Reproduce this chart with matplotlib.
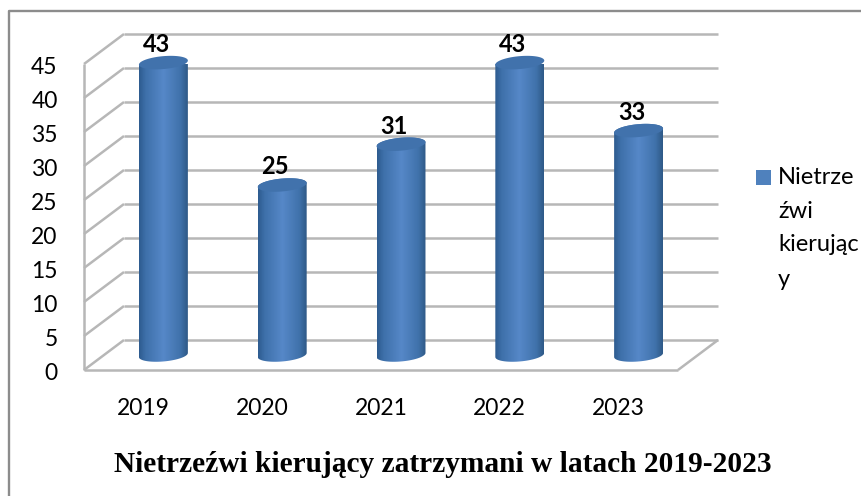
import matplotlib
matplotlib.use("Agg")
import matplotlib.pyplot as plt
import numpy as np
from matplotlib.colors import LinearSegmentedColormap
from matplotlib.patches import Polygon, Rectangle
from matplotlib.path import Path
from matplotlib.transforms import Affine2D

years = ["2019", "2020", "2021", "2022", "2023"]
drivers = [43, 25, 31, 43, 33]
y_ticks = [0, 5, 10, 15, 20, 25, 30, 35, 40, 45]
legend_lines = ["Nietrze", "źwi", "kierując", "y"]
title = "Nietrzeźwi kierujący zatrzymani w latach 2019-2023"

W, H = 861, 496
plt.rcParams["font.family"] = ["Lato", "DejaVu Sans"]

fig = plt.figure(figsize=(W / 100, H / 100), dpi=100)
ax = fig.add_axes([84 / W, (H - 370) / H, 594 / W, 306 / H])
ax.patch.set_visible(False)
for s in ax.spines.values():
    s.set_visible(False)

# pseudo 3d: back wall and bars are shifted in pixels from the front plane
back = ax.transData + Affine2D().translate(40, 30)
mid = ax.transData + Affine2D().translate(20, 15)
pixel = Affine2D().scale(1, -1).translate(0, H)  # image pixels -> display

grid = dict(color="#b7b7b7", lw=1.8, clip_on=False, solid_capstyle="butt", zorder=1)
for v in y_ticks:
    ax.plot([-0.5, 4.5], [v, v], transform=back, **grid)
    ax.plot([84, 124], [370 - v * 6.8, 340 - v * 6.8], transform=pixel, **grid)
ax.plot([-0.5, 4.5], [0, 0], **grid)
ax.plot([-0.5, -0.5], [0, 45], **grid)
ax.plot([678, 718], [370, 340], transform=pixel, **grid)

cyl = LinearSegmentedColormap.from_list(
    "cyl", [(0, "#2e5c90"), (0.13, "#3e70aa"), (0.5, "#5688c8"), (0.85, "#4072ab"), (1, "#2f5a88")]
)
hw = 0.206
hy = 0.95
tilt = 0.3
t = np.linspace(0, 2 * np.pi, 80)
lower = np.linspace(np.pi, 2 * np.pi, 40)
upper = np.linspace(0, np.pi, 40)


def rim(xc, v, a):
    return np.column_stack([xc + hw * np.cos(a), v + hy * np.sin(a) + tilt * np.cos(a)])


for i, v in enumerate(drivers):
    body = np.vstack([rim(i, 0, lower), rim(i, v, upper)])
    im = ax.imshow(
        np.linspace(0, 1, 64).reshape(1, -1), cmap=cyl, aspect="auto",
        extent=(i - hw, i + hw, -2, v + 2), transform=mid, zorder=3,
        interpolation="bilinear",
    )
    im.set_clip_path(Path(np.vstack([body, body[:1]])), mid)
    ax.add_patch(Polygon(rim(i, v, t), closed=True, fc="#4172ac", ec="none",
                         transform=mid, zorder=4, clip_on=False))
    ax.annotate(str(v), (i, v), xycoords=mid, xytext=(-5, 13), textcoords="offset points",
                ha="center", va="center", fontsize=17, fontweight="bold", color="black",
                zorder=5, annotation_clip=False)

ax.set_xlim(-0.5, 4.5)
ax.set_ylim(0, 45)
ax.set_xticks(range(len(years)), years)
ax.set_yticks(y_ticks)
ax.tick_params(length=0, labelsize=16.5, colors="black")
ax.tick_params(axis="x", pad=20)
ax.tick_params(axis="y", pad=19)
for lab in ax.get_yticklabels():
    lab.set_transform(lab.get_transform() + Affine2D().translate(0, -2))

# chart frame, only top and left are inside the crop
fig.add_artist(plt.Line2D([9, 9, W], [H, 11, 11], transform=pixel, color="#8c8c8c", lw=1.7))

fig.add_artist(Rectangle((756, 170), 15, 15, transform=pixel, fc="#4f81bd", ec="none"))
for n, line in enumerate(legend_lines):
    fig.text(778 / W, 1 - (177 + n * 34) / H, line, fontsize=17, va="center", ha="left")

fig.text(443 / W, 1 - 464 / H, title, family="Liberation Serif", fontweight="bold",
         fontsize=21.2, ha="center", va="center")

fig.savefig("out.png", dpi=100)
